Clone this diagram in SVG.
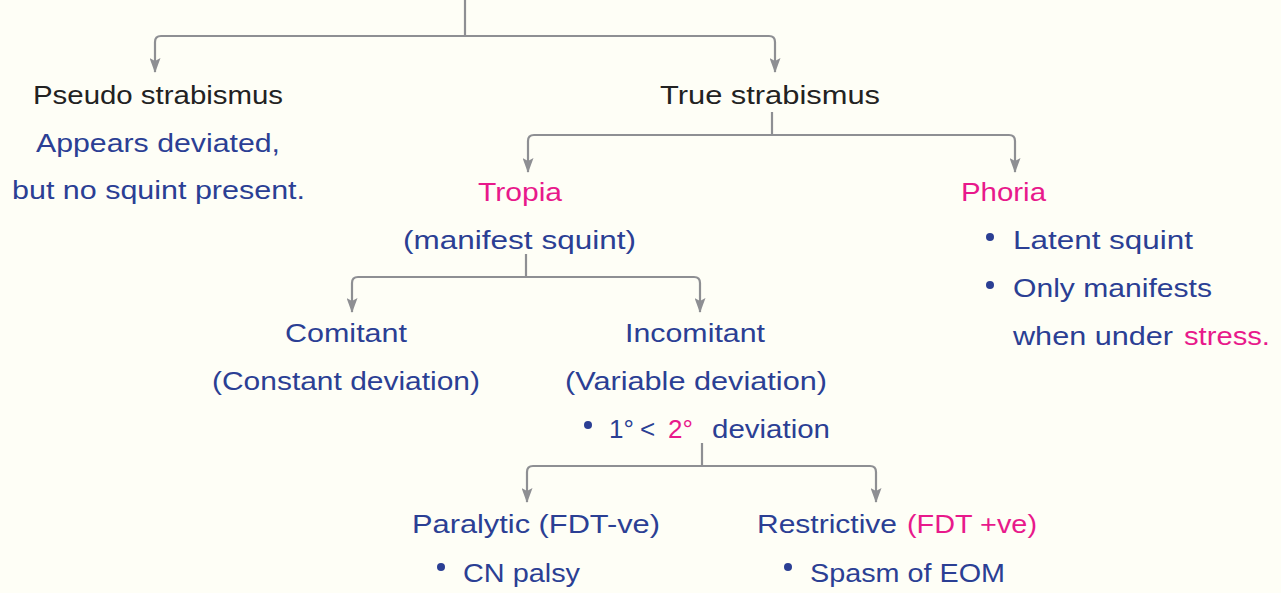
<svg xmlns="http://www.w3.org/2000/svg" width="1281" height="593" viewBox="0 0 1281 593">
<defs>
<style>
text{font-family:"Liberation Sans",Arial,sans-serif;font-size:26px;}
.k{fill:#222222;}
.b{fill:#2b3f94;}
.p{fill:#e8198b;}
.c{fill:none;stroke:#8e8f93;stroke-width:2.2;}
.dot{fill:#2b3f94;}
</style>
<marker id="ah" viewBox="0 0 15 11" refX="14" refY="5.5" markerWidth="15" markerHeight="11" markerUnits="userSpaceOnUse" orient="auto">
<path d="M0,0 L15,5.5 L0,11 L3,5.5 Z" fill="#8e8f93"/>
</marker>
</defs>
<rect width="1281" height="593" fill="#fefef6"/>
<g id="connectors">
<path class="c" d="M465,0 V36"/>
<path class="c" d="M465,36 H161 Q155,36 155,42 V72" marker-end="url(#ah)"/>
<path class="c" d="M465,36 H769 Q775,36 775,42 V72" marker-end="url(#ah)"/>
<path class="c" d="M772,112 V135"/>
<path class="c" d="M772,135 H534 Q528,135 528,141 V172" marker-end="url(#ah)"/>
<path class="c" d="M772,135 H1009 Q1015,135 1015,141 V172" marker-end="url(#ah)"/>
<path class="c" d="M526,254 V277"/>
<path class="c" d="M526,277 H358 Q352,277 352,283 V312" marker-end="url(#ah)"/>
<path class="c" d="M526,277 H694 Q700,277 700,283 V312" marker-end="url(#ah)"/>
<path class="c" d="M702,443 V466"/>
<path class="c" d="M702,466 H533 Q527,466 527,472 V502" marker-end="url(#ah)"/>
<path class="c" d="M702,466 H870 Q876,466 876,472 V502" marker-end="url(#ah)"/>
</g>
<g id="pseudo">
<text class="k" x="33" y="104" textLength="250" lengthAdjust="spacingAndGlyphs">Pseudo strabismus</text>
<text class="b" x="36" y="152" textLength="244" lengthAdjust="spacingAndGlyphs">Appears deviated,</text>
<text class="b" x="12" y="199" textLength="293" lengthAdjust="spacingAndGlyphs">but no squint present.</text>
</g>
<g id="true">
<text class="k" x="660" y="104" textLength="220" lengthAdjust="spacingAndGlyphs">True strabismus</text>
</g>
<g id="tropia">
<text class="p" x="478" y="201" textLength="84" lengthAdjust="spacingAndGlyphs">Tropia</text>
<text class="b" x="403" y="249" textLength="233" lengthAdjust="spacingAndGlyphs">(manifest squint)</text>
</g>
<g id="phoria">
<text class="p" x="961" y="201" textLength="85" lengthAdjust="spacingAndGlyphs">Phoria</text>
<circle class="dot" cx="990" cy="237" r="4"/>
<text class="b" x="1013" y="249" textLength="180" lengthAdjust="spacingAndGlyphs">Latent squint</text>
<circle class="dot" cx="990" cy="285" r="4"/>
<text class="b" x="1013" y="297" textLength="199" lengthAdjust="spacingAndGlyphs">Only manifests</text>
<text class="b" x="1013" y="345" textLength="160" lengthAdjust="spacingAndGlyphs">when under</text>
<text class="p" x="1184" y="345" textLength="86" lengthAdjust="spacingAndGlyphs">stress.</text>
</g>
<g id="comitant">
<text class="b" x="285" y="342" textLength="122" lengthAdjust="spacingAndGlyphs">Comitant</text>
<text class="b" x="212" y="390" textLength="268" lengthAdjust="spacingAndGlyphs">(Constant deviation)</text>
</g>
<g id="incomitant">
<text class="b" x="625" y="342" textLength="140" lengthAdjust="spacingAndGlyphs">Incomitant</text>
<text class="b" x="565" y="390" textLength="262" lengthAdjust="spacingAndGlyphs">(Variable deviation)</text>
<circle class="dot" cx="588" cy="425" r="4"/>
<text class="b" x="609" y="438">1°</text>
<text class="b" x="640" y="438">&lt;</text>
<text class="p" x="668" y="438">2°</text>
<text class="b" x="712" y="438" textLength="118" lengthAdjust="spacingAndGlyphs">deviation</text>
</g>
<g id="paralytic">
<text class="b" x="412" y="533" textLength="248" lengthAdjust="spacingAndGlyphs">Paralytic (FDT-ve)</text>
<circle class="dot" cx="441" cy="567" r="4"/>
<text class="b" x="463" y="582" textLength="117" lengthAdjust="spacingAndGlyphs">CN palsy</text>
</g>
<g id="restrictive">
<text class="b" x="757" y="533" textLength="140" lengthAdjust="spacingAndGlyphs">Restrictive</text>
<text class="p" x="907" y="533" textLength="130" lengthAdjust="spacingAndGlyphs">(FDT +ve)</text>
<circle class="dot" cx="788" cy="567" r="4"/>
<text class="b" x="810" y="582" textLength="195" lengthAdjust="spacingAndGlyphs">Spasm of EOM</text>
</g>
</svg>
